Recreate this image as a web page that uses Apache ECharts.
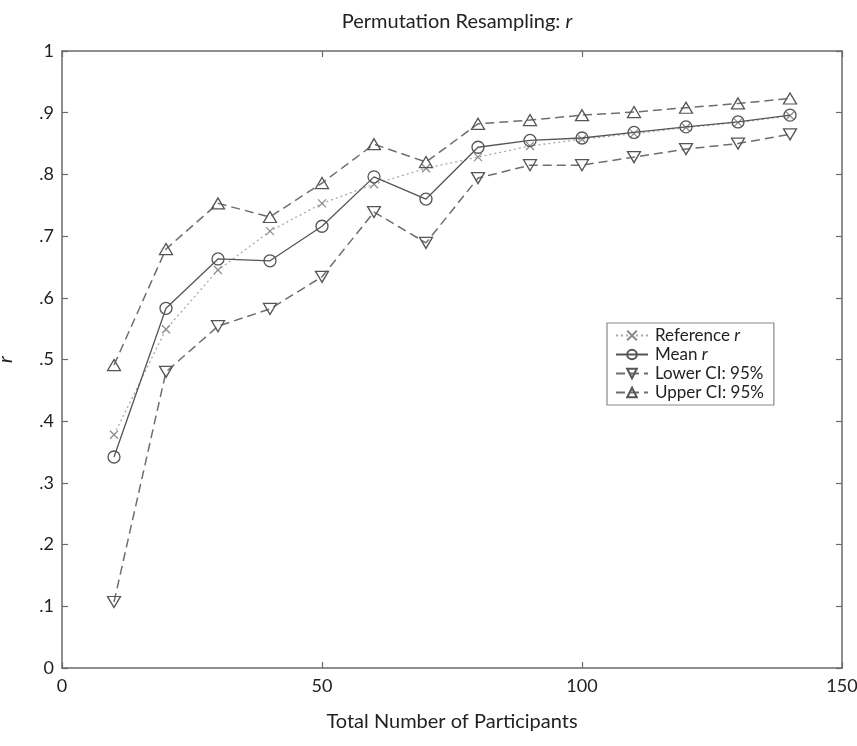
<!DOCTYPE html>
<html>
<head>
<meta charset="utf-8">
<script src="https://cdn.jsdelivr.net/npm/echarts@6/dist/echarts.min.js"></script>
<style>
html,body{margin:0;padding:0;background:#fff;}
#chart{width:857px;height:746px;}
</style>
</head>
<body>
<div id="chart"></div>
<script>
var participants = [10, 20, 30, 40, 50, 60, 70, 80, 90, 100, 110, 120, 130, 140];
var referenceR = [0.378, 0.549, 0.645, 0.708, 0.753, 0.784, 0.810, 0.828, 0.846, 0.857, 0.866, 0.876, 0.884, 0.895];
var meanR      = [0.342, 0.583, 0.663, 0.660, 0.716, 0.796, 0.760, 0.844, 0.855, 0.859, 0.868, 0.877, 0.885, 0.896];
var lowerCI    = [0.107, 0.480, 0.554, 0.582, 0.634, 0.739, 0.689, 0.794, 0.815, 0.815, 0.828, 0.841, 0.850, 0.865];
var upperCI    = [0.491, 0.679, 0.753, 0.731, 0.786, 0.849, 0.820, 0.882, 0.888, 0.896, 0.901, 0.908, 0.915, 0.923];
var seriesNames = ['Reference r', 'Mean r', 'Lower CI: 95%', 'Upper CI: 95%'];
var xTicks = [0, 50, 100, 150];
var yTickLabels = ['0', '.1', '.2', '.3', '.4', '.5', '.6', '.7', '.8', '.9', '1'];

function pairs(ys) { return participants.map(function (x, i) { return [x, ys[i]]; }); }

var FONT = 'Lato';
var axisCol = '#6a6a6a';
var crossPath = 'path://M0,0L10,10M10,0L0,10';

var chart = echarts.init(document.getElementById('chart'), null, {renderer: 'canvas'});
function axisBase() {
  return {
    axisLine: {show: true, onZero: false, lineStyle: {color: axisCol, width: 1.5}},
    axisTick: {show: true, inside: true, length: 6, lineStyle: {color: axisCol, width: 1.2}},
    splitLine: {show: false}
  };
}
var italic = {fontStyle: 'italic', fontFamily: FONT, fontSize: 20, color: '#222'};
var italicLeg = {fontStyle: 'italic', fontFamily: FONT, fontSize: 17, color: '#222'};

chart.setOption({
  animation: false,
  backgroundColor: '#fff',
  title: {
    text: 'Permutation Resampling: {i|r}',
    left: 452, top: 7, textAlign: 'center',
    textStyle: {fontFamily: FONT, fontSize: 20, fontWeight: 'normal', color: '#222',
      rich: {i: italic}}
  },
  grid: {left: 62, right: 15, top: 51, bottom: 78, containLabel: false, outerBoundsMode: 'none'},
  legend: {
    orient: 'vertical',
    left: 607, top: 323,
    width: 173,
    padding: [4, 10, 4, 8],
    itemGap: 2,
    itemWidth: 32, itemHeight: 12,
    backgroundColor: '#fff',
    borderColor: '#888', borderWidth: 1.2, borderRadius: 0,
    data: seriesNames,
    formatter: function (n) {
      return n.replace(/ r$/, ' {i|r}');
    },
    textStyle: {fontFamily: FONT, fontSize: 17, color: '#222', padding: [0, 0, 0, 2],
      rich: {i: italicLeg}}
  },
  xAxis: [
    Object.assign(axisBase(), {
      type: 'value', min: 0, max: 150, interval: 50, position: 'bottom',
      name: 'Total Number of Participants', nameLocation: 'middle', nameGap: 44,
      nameTextStyle: {fontFamily: FONT, fontSize: 20, color: '#222'},
      axisLabel: {fontFamily: FONT, fontSize: 18, color: '#222', margin: 9,
        formatter: function (v) { return xTicks.indexOf(v) >= 0 ? String(v) : ''; }}
    }),
    Object.assign(axisBase(), {
      type: 'value', min: 0, max: 150, interval: 50, position: 'top',
      axisLabel: {show: false}
    })
  ],
  yAxis: [
    Object.assign(axisBase(), {
      type: 'value', min: 0, max: 1, interval: 0.1, position: 'left',
      name: 'r', nameLocation: 'middle', nameGap: 46, nameRotate: 90,
      nameTextStyle: {fontFamily: FONT, fontSize: 20, fontStyle: 'italic', color: '#222'},
      axisLabel: {fontFamily: FONT, fontSize: 18, color: '#222', margin: 8,
        formatter: function (v) { return yTickLabels[Math.round(v * 10)]; }}
    }),
    Object.assign(axisBase(), {
      type: 'value', min: 0, max: 1, interval: 0.1, position: 'right',
      axisLabel: {show: false}
    })
  ],
  series: [
    {
      name: seriesNames[0], type: 'line', data: pairs(referenceR),
      symbol: crossPath, symbolSize: 8, showAllSymbol: true,
      lineStyle: {color: '#a8a8a8', width: 1.3, type: [2, 3]},
      itemStyle: {color: 'rgba(0,0,0,0)', borderColor: '#8a8a8a', borderWidth: 1.2},
      z: 2
    },
    {
      name: seriesNames[1], type: 'line', data: pairs(meanR),
      symbol: 'circle', symbolSize: 12, showAllSymbol: true,
      lineStyle: {color: '#555', width: 1.3, type: 'solid'},
      itemStyle: {color: 'rgba(0,0,0,0)', borderColor: '#555', borderWidth: 1.3},
      z: 3
    },
    {
      name: seriesNames[2], type: 'line', data: pairs(lowerCI),
      symbol: 'triangle', symbolRotate: 180, symbolSize: [13, 11], showAllSymbol: true,
      lineStyle: {color: '#6e6e6e', width: 1.5, type: [9, 5]},
      itemStyle: {color: 'rgba(0,0,0,0)', borderColor: '#555', borderWidth: 1.3},
      z: 3
    },
    {
      name: seriesNames[3], type: 'line', data: pairs(upperCI),
      symbol: 'triangle', symbolSize: [13, 11], showAllSymbol: true,
      lineStyle: {color: '#6e6e6e', width: 1.5, type: [9, 5]},
      itemStyle: {color: 'rgba(0,0,0,0)', borderColor: '#555', borderWidth: 1.3},
      z: 3
    }
  ]
});
</script>
</body>
</html>
